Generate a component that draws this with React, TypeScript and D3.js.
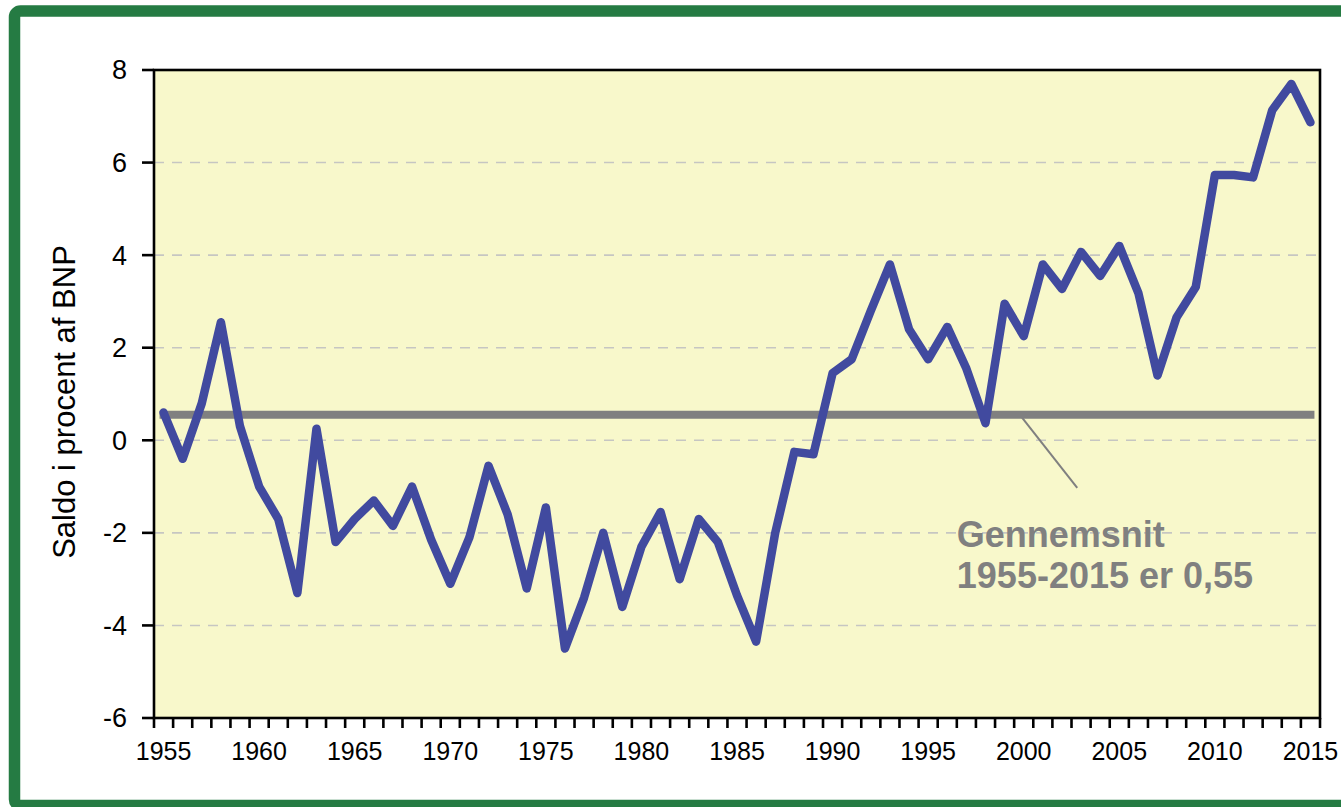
import React from "react";
import * as d3 from "d3";

const years: number[] = d3.range(1955, 2016);
const saldo: number[] = [
  0.6, -0.4, 0.8, 2.55, 0.3, -1.0, -1.7, -3.3, 0.25, -2.2,
  -1.7, -1.3, -1.85, -1.0, -2.15, -3.1, -2.1, -0.55, -1.6, -3.2,
  -1.45, -4.5, -3.4, -2.0, -3.6, -2.3, -1.55, -3.0, -1.7, -2.2,
  -3.35, -4.35, -2.0, -0.25, -0.3, 1.45, 1.75, 2.8, 3.8, 2.4,
  1.75, 2.45, 1.55, 0.37, 2.95, 2.25, 3.8, 3.27, 4.07, 3.55,
  4.2, 3.18, 1.4, 2.66, 3.31, 5.73, 5.73, 5.68, 7.13, 7.7, 6.87,
];
const average = 0.55;
const yTicks: number[] = [-6, -4, -2, 0, 2, 4, 6, 8];
const gridTicks: number[] = [-4, -2, 0, 2, 4, 6];
const xLabelYears: number[] = [1955, 1960, 1965, 1970, 1975, 1980, 1985, 1990, 1995, 2000, 2005, 2010, 2015];
const yTitle = "Saldo i procent af BNP";
const noteLines: string[] = ["Gennemsnit", "1955-2015 er 0,55"];

const W = 1341;
const H = 807;
const plot = { left: 154, right: 1320, top: 70, bottom: 718 };
const FONT = "'Liberation Sans', Arial, Helvetica, sans-serif";

export default function App() {
  const xBand = d3
    .scaleBand<number>()
    .domain(years)
    .range([plot.left, plot.right])
    .padding(0);
  const bw = xBand.bandwidth();
  const xc = d3
    .scaleLinear()
    .domain([1955, 2015])
    .range([(xBand(1955) as number) + bw / 2, (xBand(2015) as number) + bw / 2]);
  const y = d3.scaleLinear().domain([-6, 8]).range([plot.bottom, plot.top]);

  const line = d3
    .line<number>()
    .x((_, i) => xc(years[i]))
    .y((d) => y(d))
    .curve(d3.curveLinear);

  const boundaries = d3.range(years.length + 1).map((i) => plot.left + i * bw);

  return (
    <svg
      width={W}
      height={H}
      style={{ position: "absolute", left: 0, top: 0, background: "#ffffff" }}
      fontFamily={FONT}
    >
      <rect x={0} y={0} width={W} height={H} fill="#ffffff" />
      {/* green frame */}
      <rect
        x={14.5}
        y={11}
        width={1400}
        height={794.5}
        rx={6}
        fill="none"
        stroke="#257b43"
        strokeWidth={11.5}
      />
      {/* plot background */}
      <rect
        x={plot.left}
        y={plot.top}
        width={plot.right - plot.left}
        height={plot.bottom - plot.top}
        fill="#f8f8cb"
      />
      {/* gridlines */}
      {gridTicks.map((t) => (
        <line
          key={"g" + t}
          x1={plot.left}
          x2={plot.right}
          y1={y(t)}
          y2={y(t)}
          stroke="#c6c6c2"
          strokeWidth={1.6}
          strokeDasharray="10,8"
        />
      ))}
      {/* average line */}
      <line
        x1={xc(1955)}
        x2={xc(2015)}
        y1={y(average)}
        y2={y(average)}
        stroke="#808080"
        strokeWidth={8}
        strokeLinecap="square"
      />
      {/* annotation connector */}
      <line
        x1={xc(1999.8)}
        y1={y(average)}
        x2={xc(2002.8)}
        y2={y(-1.03)}
        stroke="#808080"
        strokeWidth={2}
      />
      {/* data line */}
      <path
        d={line(saldo) || ""}
        fill="none"
        stroke="#414a9f"
        strokeWidth={8.5}
        strokeLinejoin="round"
        strokeLinecap="round"
      />
      {/* plot border */}
      <rect
        x={plot.left}
        y={plot.top}
        width={plot.right - plot.left}
        height={plot.bottom - plot.top}
        fill="none"
        stroke="#000000"
        strokeWidth={2.6}
      />
      {/* y ticks */}
      {yTicks.map((t) => (
        <g key={"y" + t}>
          <line x1={plot.left - 12} x2={plot.left} y1={y(t)} y2={y(t)} stroke="#000" strokeWidth={2.6} />
          <text
            x={plot.left - 27}
            y={y(t)}
            dy="0.35em"
            textAnchor="end"
            fontSize={27}
            fill="#000"
          >
            {t}
          </text>
        </g>
      ))}
      {/* x ticks */}
      {boundaries.map((bx, i) => (
        <line key={"xt" + i} x1={bx} x2={bx} y1={plot.bottom} y2={plot.bottom + 10} stroke="#000" strokeWidth={2.6} />
      ))}
      {xLabelYears.map((yr) => (
        <text
          key={"xl" + yr}
          x={xc(yr)}
          y={plot.bottom + 42}
          textAnchor="middle"
          fontSize={25}
          fill="#000"
        >
          {yr}
        </text>
      ))}
      {/* y title */}
      <text
        transform={`translate(75, ${(plot.top + plot.bottom) / 2 + 8}) rotate(-90)`}
        textAnchor="middle"
        fontSize={31}
        fill="#000"
      >
        {yTitle}
      </text>
      {/* annotation text */}
      {noteLines.map((s, i) => (
        <text
          key={"n" + i}
          x={xc(1996.5)}
          y={y(-2.3) + i * 41}
          fontSize={36}
          fontWeight="bold"
          fill="#808080"
        >
          {s}
        </text>
      ))}
    </svg>
  );
}
